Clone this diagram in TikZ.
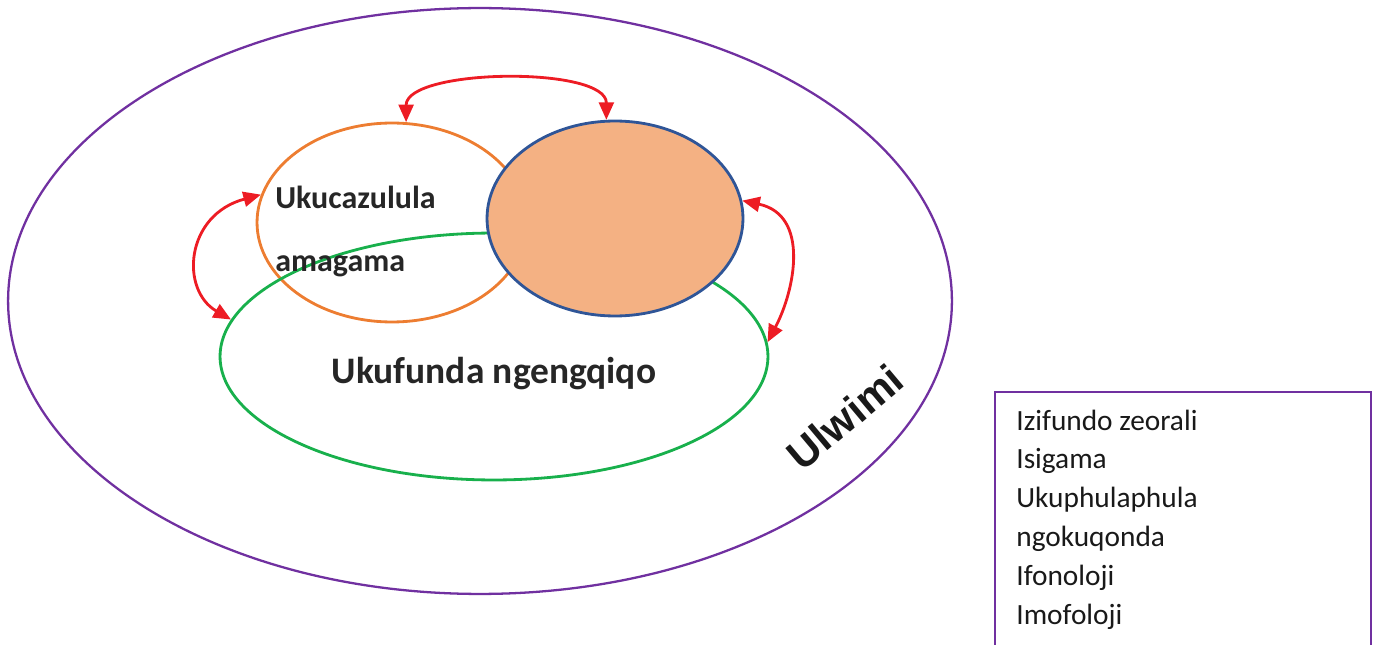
\documentclass[tikz,border=0pt]{standalone}
\usepackage{fontspec}
\setmainfont{Carlito}
\newfontfamily\ulwimifont{Liberation Sans}
\usetikzlibrary{shapes.geometric, arrows.meta}

\definecolor{langpurple}{RGB}{112,48,160}
\definecolor{decodeorange}{RGB}{237,125,49}
\definecolor{readgreen}{RGB}{24,176,76}
\definecolor{compblue}{RGB}{47,85,151}
\definecolor{compfill}{RGB}{244,177,131}
\definecolor{linkred}{RGB}{237,28,36}

\tikzset{
  ring/.style={ellipse, inner sep=0pt, line width=1.6pt},
  link/.style={draw=linkred, line width=1.6pt,
    {Triangle[length=10pt,width=8.5pt]}-{Triangle[length=10pt,width=8.5pt]}},
  bigword/.style={font=\bfseries\fontsize{18.2}{21}\selectfont, text=black!85, inner sep=0pt},
  term/.style={font=\fontsize{16.7}{20}\selectfont, text=black!90, inner sep=0pt}
}

\begin{document}
\begin{tikzpicture}[x=0.02cm, y=-0.02cm]
  \useasboundingbox (0,0) rectangle (1380,645);
  \clip (0,0) rectangle (1380,645);

  % outer ring: language
  \node[ring, draw=langpurple, line width=1.3pt, minimum width=18.88cm, minimum height=11.72cm] (lang) at (480,301) {};

  % decoding, reading, and the filled circle
  \node[ring, draw=decodeorange, minimum width=5.4cm, minimum height=3.98cm] (decode) at (392,222.5) {};
  \node[ring, draw=readgreen, minimum width=10.96cm, minimum height=4.94cm] (read) at (494,356.5) {};
  \node[ring, draw=compblue, fill=compfill, minimum width=5.12cm, minimum height=3.9cm] (comp) at (615,218.5) {};

  % labels
  \node[bigword, anchor=base west] (decodeA) at (275,209) {Ukucazulula};
  \node[bigword, anchor=base west] (decodeB) at (275,272) {amagama};
  \node[bigword, font=\bfseries\fontsize{21.3}{25}\selectfont, anchor=base] (readlabel) at (494,383) {Ukufunda ngengqiqo};
  \node[font=\ulwimifont\bfseries\fontsize{24}{28}\selectfont, text=black!90, rotate=40] (langlabel) at (845,417) {Ulwimi};

  % two-way links
  \draw[link] (decode.82) .. controls +(0,-54) and +(0,-54) .. (comp.95);
  \draw[link] (decode.168) .. controls (185,215) and (180,290) .. (read.172);
  \draw[link] (comp.8) .. controls (810,215) and (795,290) .. (read.3);

  % list box
  \draw[langpurple, line width=1.3pt] (995,700) -- (995,392) -- (1371,392) -- (1371,700);
  \foreach \topic [count=\i] in {Izifundo zeorali, Isigama, Ukuphulaphula, ngokuqonda, Ifonoloji, Imofoloji} {
    \node[term, anchor=base west] (topic\i) at (1016,{430+38.8*(\i-1)}) {\topic};
  }
\end{tikzpicture}
\end{document}
